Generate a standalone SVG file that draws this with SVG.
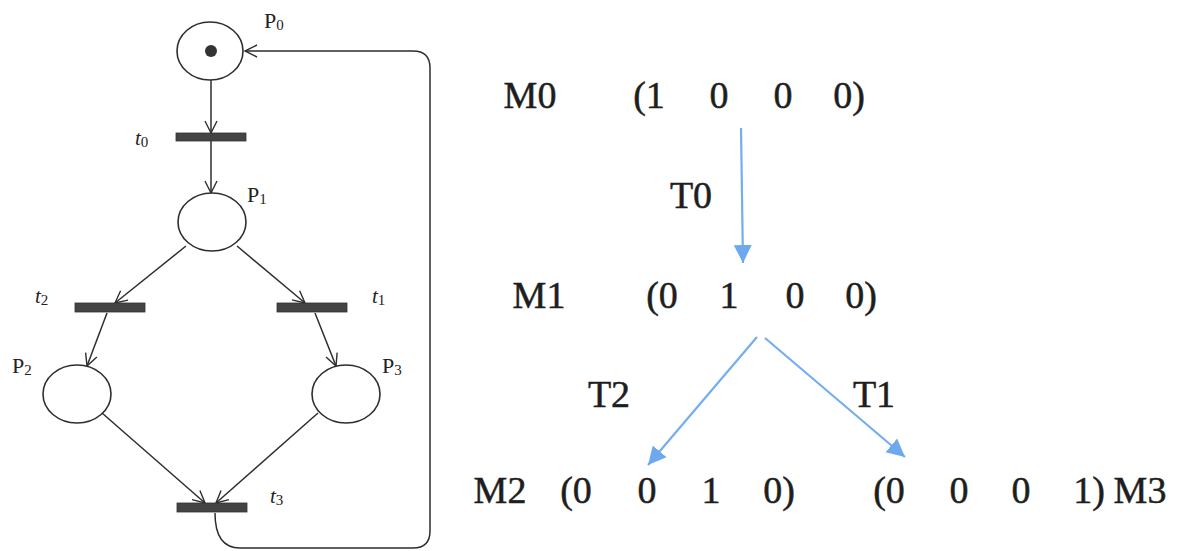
<svg xmlns="http://www.w3.org/2000/svg" width="1183" height="551" viewBox="0 0 1183 551">
<style>
  .place { fill: #ffffff; stroke: #2e2e2e; stroke-width: 1.6; }
  .trans { fill: #444444; stroke: #333333; stroke-width: 0.8; }
  .arc { fill: none; stroke: #2e2e2e; stroke-width: 1.5; }
  .blue { fill: none; stroke: #74aef0; stroke-width: 2.2; }
  .lbl { fill: #222222; }
  .it { font-style: italic; }
  .big { font-size: 38px; fill: #1e1e1e; stroke: #1e1e1e; stroke-width: 0.5; text-anchor: middle; }
</style>
<defs>
  <marker id="open" markerWidth="16" markerHeight="16" refX="13" refY="8" orient="auto" markerUnits="userSpaceOnUse">
    <path d="M1,2 L13,8 L1,14" fill="none" stroke="#2e2e2e" stroke-width="1.4"/>
  </marker>
  <marker id="tri" markerWidth="22" markerHeight="22" refX="18" refY="10" orient="auto" markerUnits="userSpaceOnUse">
    <path d="M0,1 L18,10 L0,19 Z" fill="#6ea9ee"/>
  </marker>
</defs>

<g id="connectors">
  <line class="arc" x1="211" y1="80" x2="211" y2="133" marker-end="url(#open)"/>
  <line class="arc" x1="211" y1="141" x2="211" y2="193" marker-end="url(#open)"/>
  <line class="arc" x1="186" y1="246" x2="115" y2="303" marker-end="url(#open)"/>
  <line class="arc" x1="237" y1="246" x2="305" y2="303" marker-end="url(#open)"/>
  <line class="arc" x1="107" y1="313" x2="87" y2="366" marker-end="url(#open)"/>
  <line class="arc" x1="315" y1="313" x2="336" y2="366" marker-end="url(#open)"/>
  <line class="arc" x1="102" y1="413" x2="205" y2="503" marker-end="url(#open)"/>
  <line class="arc" x1="318" y1="413" x2="216" y2="503" marker-end="url(#open)"/>
  <path class="arc" d="M215,513 C215,535 222,548 240,548 L413,548 Q430,548 430,531 L430,68 Q430,51 413,51 L245,51" marker-end="url(#open)"/>
  <line class="blue" x1="741" y1="128" x2="743" y2="263" marker-end="url(#tri)"/>
  <line class="blue" x1="757" y1="337" x2="648" y2="465" marker-end="url(#tri)"/>
  <line class="blue" x1="765" y1="338" x2="905" y2="457" marker-end="url(#tri)"/>
</g>

<g font-family="Liberation Serif, Times New Roman, serif">
<g id="P0">
  <ellipse class="place" cx="210" cy="51" rx="33" ry="29"/>
  <circle cx="211" cy="51" r="6" fill="#333333"/>
  <text class="lbl" x="264" y="28" font-size="22">P<tspan font-size="15" dy="2">0</tspan></text>
</g>
<g id="t0">
  <rect class="trans" x="176" y="133" width="70" height="8"/>
  <text class="lbl it" x="135" y="145" font-size="21">t<tspan font-size="15" font-style="normal" dy="2">0</tspan></text>
</g>
<g id="P1">
  <ellipse class="place" cx="212" cy="222" rx="34" ry="29"/>
  <text class="lbl" x="247" y="202" font-size="22">P<tspan font-size="15" dy="2">1</tspan></text>
</g>
<g id="t2">
  <rect class="trans" x="75" y="303" width="70" height="9"/>
  <text class="lbl it" x="35" y="303" font-size="21">t<tspan font-size="15" font-style="normal" dy="2">2</tspan></text>
</g>
<g id="t1">
  <rect class="trans" x="277" y="303" width="70" height="9"/>
  <text class="lbl it" x="372" y="303" font-size="21">t<tspan font-size="15" font-style="normal" dy="2">1</tspan></text>
</g>
<g id="P2">
  <ellipse class="place" cx="77" cy="394" rx="34" ry="29"/>
  <text class="lbl" x="12" y="373" font-size="22">P<tspan font-size="15" dy="2">2</tspan></text>
</g>
<g id="P3">
  <ellipse class="place" cx="346" cy="394" rx="34" ry="29"/>
  <text class="lbl" x="382" y="373" font-size="22">P<tspan font-size="15" dy="2">3</tspan></text>
</g>
<g id="t3">
  <rect class="trans" x="177" y="503" width="70" height="9"/>
  <text class="lbl it" x="270" y="503" font-size="21">t<tspan font-size="15" font-style="normal" dy="2">3</tspan></text>
</g>

<g id="M0">
  <text class="big" x="530" y="108">M0</text>
  <text class="big" x="649" y="108">(1</text>
  <text class="big" x="719" y="108">0</text>
  <text class="big" x="783" y="108">0</text>
  <text class="big" x="849" y="108">0)</text>
</g>
<g id="M1">
  <text class="big" x="539" y="308">M1</text>
  <text class="big" x="662" y="308">(0</text>
  <text class="big" x="729" y="308">1</text>
  <text class="big" x="795" y="308">0</text>
  <text class="big" x="861" y="308">0)</text>
</g>
<g id="M2">
  <text class="big" x="500" y="503">M2</text>
  <text class="big" x="576" y="503">(0</text>
  <text class="big" x="647" y="503">0</text>
  <text class="big" x="711" y="503">1</text>
  <text class="big" x="779" y="503">0)</text>
</g>
<g id="M3">
  <text class="big" x="889" y="503">(0</text>
  <text class="big" x="959" y="503">0</text>
  <text class="big" x="1021" y="503">0</text>
  <text class="big" x="1089" y="503">1)</text>
  <text class="big" x="1140" y="503">M3</text>
</g>
<g id="labels">
  <text class="big" x="691" y="208">T0</text>
  <text class="big" x="609" y="407">T2</text>
  <text class="big" x="874" y="407">T1</text>
</g>
</g>
</svg>
